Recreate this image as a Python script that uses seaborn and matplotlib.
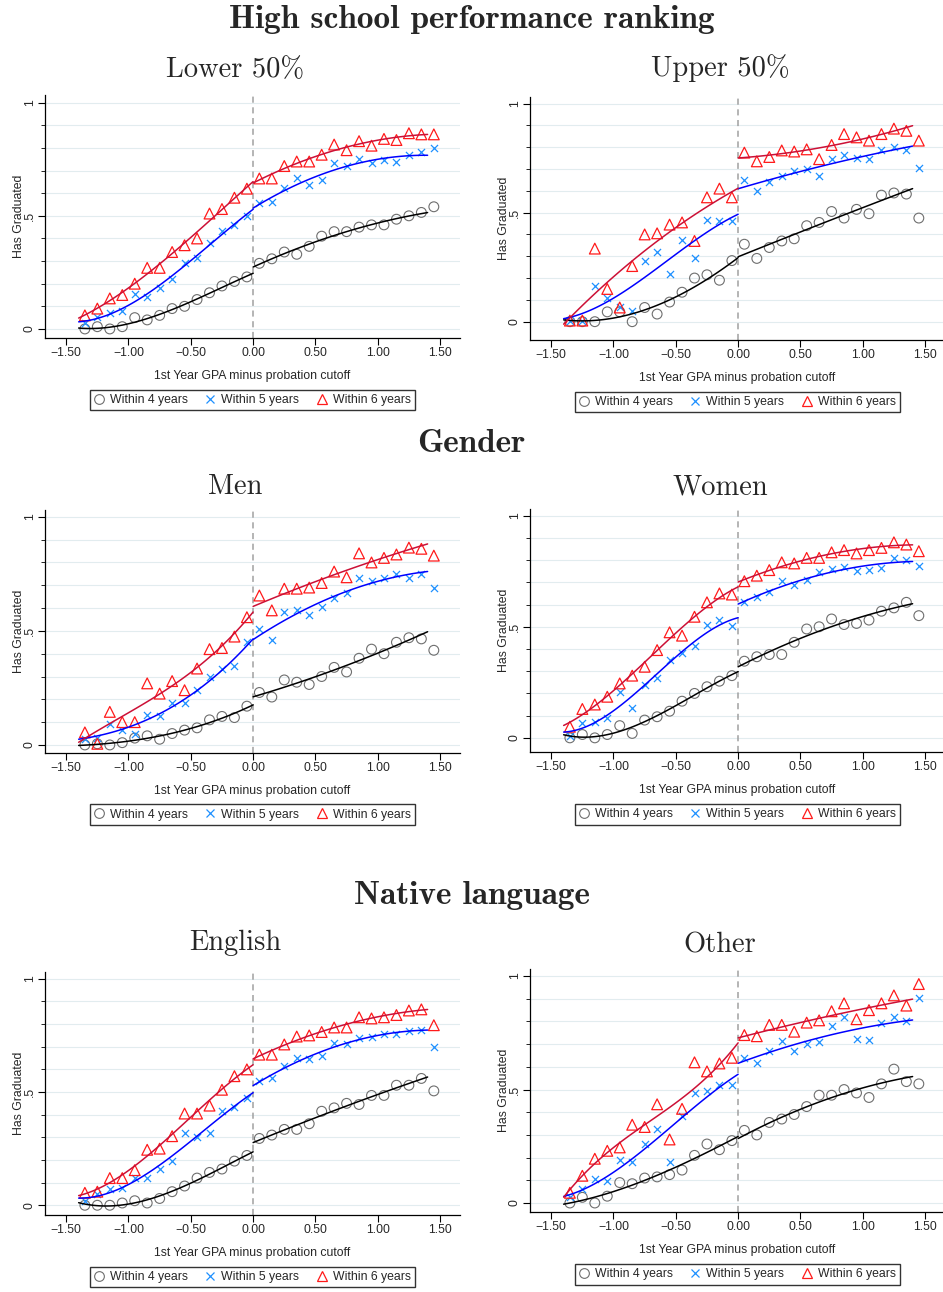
import numpy as np
import pandas as pd
import seaborn as sns
import matplotlib.pyplot as plt
from matplotlib.lines import Line2D
from matplotlib.ticker import MultipleLocator

# bin centres of 1st year GPA minus probation cutoff
bins = [-1.35, -1.25, -1.15, -1.05, -0.95, -0.85, -0.75, -0.65, -0.55, -0.45,
        -0.35, -0.25, -0.15, -0.05, 0.05, 0.15, 0.25, 0.35, 0.45, 0.55,
        0.65, 0.75, 0.85, 0.95, 1.05, 1.15, 1.25, 1.35, 1.45]

# High school ranking: lower 50%
lower_4yr = [0.00, 0.01, 0.00, 0.01, 0.05, 0.04, 0.06, 0.09, 0.10, 0.13, 0.16, 0.19, 0.21, 0.23,
             0.29, 0.31, 0.34, 0.33, 0.365, 0.41, 0.43, 0.43, 0.45, 0.46, 0.46, 0.485, 0.50, 0.515, 0.54]
lower_5yr = [0.025, 0.055, 0.07, 0.08, 0.155, 0.14, 0.18, 0.22, 0.29, 0.315, 0.38, 0.435, 0.46, 0.50,
             0.555, 0.56, 0.625, 0.665, 0.635, 0.66, 0.735, 0.72, 0.75, 0.735, 0.745, 0.74, 0.77, 0.78, 0.80]
lower_6yr = [0.06, 0.09, 0.135, 0.15, 0.20, 0.27, 0.27, 0.34, 0.37, 0.40, 0.51, 0.53, 0.58, 0.62,
             0.665, 0.665, 0.72, 0.74, 0.74, 0.77, 0.815, 0.79, 0.83, 0.81, 0.84, 0.835, 0.865, 0.86, 0.86]

# High school ranking: upper 50%
upper_4yr = [0.00, 0.00, 0.00, 0.045, 0.045, 0.00, 0.065, 0.035, 0.09, 0.135, 0.20, 0.215, 0.19, 0.28,
             0.355, 0.29, 0.34, 0.37, 0.38, 0.44, 0.455, 0.505, 0.475, 0.515, 0.495, 0.58, 0.59, 0.585, 0.475]
upper_5yr = [0.005, 0.005, 0.165, 0.11, 0.065, 0.05, 0.28, 0.32, 0.22, 0.375, 0.29, 0.465, 0.46, 0.46,
             0.65, 0.60, 0.64, 0.67, 0.69, 0.70, 0.67, 0.745, 0.765, 0.75, 0.745, 0.785, 0.80, 0.785, 0.705]
upper_6yr = [0.005, 0.005, 0.335, 0.15, 0.065, 0.255, 0.40, 0.405, 0.445, 0.455, 0.37, 0.57, 0.61, 0.57,
             0.775, 0.735, 0.755, 0.785, 0.78, 0.79, 0.745, 0.81, 0.86, 0.845, 0.83, 0.86, 0.885, 0.875, 0.83]

# Gender: men
men_4yr = [0.00, 0.005, 0.00, 0.01, 0.03, 0.04, 0.025, 0.05, 0.065, 0.075, 0.11, 0.125, 0.12, 0.17,
           0.23, 0.21, 0.285, 0.275, 0.265, 0.30, 0.34, 0.32, 0.38, 0.42, 0.40, 0.45, 0.47, 0.465, 0.415]
men_5yr = [0.025, 0.03, 0.09, 0.065, 0.05, 0.13, 0.125, 0.185, 0.185, 0.24, 0.30, 0.335, 0.345, 0.45,
           0.51, 0.46, 0.585, 0.59, 0.57, 0.605, 0.645, 0.665, 0.73, 0.72, 0.73, 0.75, 0.73, 0.75, 0.69]
men_6yr = [0.055, 0.005, 0.145, 0.10, 0.10, 0.27, 0.225, 0.28, 0.24, 0.335, 0.42, 0.425, 0.475, 0.56,
           0.655, 0.59, 0.685, 0.685, 0.69, 0.71, 0.76, 0.735, 0.84, 0.80, 0.82, 0.835, 0.865, 0.86, 0.83]

# Gender: women
women_4yr = [0.00, 0.015, 0.00, 0.015, 0.055, 0.02, 0.08, 0.095, 0.12, 0.165, 0.20, 0.23, 0.255, 0.28,
             0.345, 0.365, 0.375, 0.375, 0.43, 0.49, 0.50, 0.535, 0.51, 0.515, 0.53, 0.57, 0.585, 0.61, 0.55]
women_5yr = [0.01, 0.065, 0.07, 0.09, 0.205, 0.135, 0.24, 0.27, 0.35, 0.38, 0.415, 0.51, 0.53, 0.505,
             0.61, 0.635, 0.655, 0.705, 0.69, 0.71, 0.745, 0.76, 0.77, 0.75, 0.755, 0.765, 0.81, 0.80, 0.775]
women_6yr = [0.05, 0.13, 0.15, 0.185, 0.245, 0.28, 0.32, 0.395, 0.475, 0.46, 0.545, 0.61, 0.65, 0.645,
             0.705, 0.73, 0.755, 0.79, 0.785, 0.81, 0.81, 0.835, 0.845, 0.83, 0.845, 0.855, 0.88, 0.87, 0.84]

# Native language: English
english_4yr = [0.00, 0.00, 0.00, 0.01, 0.02, 0.01, 0.03, 0.06, 0.085, 0.12, 0.145, 0.16, 0.195, 0.22,
               0.295, 0.31, 0.335, 0.335, 0.36, 0.415, 0.43, 0.45, 0.445, 0.485, 0.485, 0.53, 0.53, 0.56, 0.505]
english_5yr = [0.02, 0.05, 0.07, 0.075, 0.12, 0.12, 0.16, 0.195, 0.32, 0.30, 0.32, 0.415, 0.435, 0.475,
               0.55, 0.56, 0.615, 0.65, 0.645, 0.66, 0.715, 0.71, 0.74, 0.745, 0.755, 0.755, 0.77, 0.775, 0.70]
english_6yr = [0.055, 0.06, 0.12, 0.12, 0.155, 0.245, 0.25, 0.305, 0.405, 0.405, 0.44, 0.51, 0.57, 0.60,
               0.665, 0.665, 0.71, 0.745, 0.75, 0.765, 0.785, 0.785, 0.83, 0.825, 0.83, 0.84, 0.86, 0.865, 0.795]

# Native language: other
other_4yr = [0.00, 0.025, 0.00, 0.03, 0.09, 0.085, 0.11, 0.115, 0.125, 0.145, 0.21, 0.26, 0.235, 0.275,
             0.32, 0.30, 0.355, 0.37, 0.39, 0.425, 0.475, 0.475, 0.50, 0.485, 0.465, 0.525, 0.59, 0.535, 0.525]
other_5yr = [0.025, 0.06, 0.105, 0.095, 0.19, 0.18, 0.26, 0.325, 0.18, 0.385, 0.485, 0.495, 0.52, 0.52,
             0.64, 0.615, 0.67, 0.715, 0.67, 0.70, 0.71, 0.78, 0.82, 0.725, 0.72, 0.795, 0.82, 0.80, 0.905]
other_6yr = [0.045, 0.12, 0.195, 0.23, 0.245, 0.345, 0.335, 0.435, 0.28, 0.415, 0.62, 0.58, 0.615, 0.64,
             0.74, 0.735, 0.785, 0.785, 0.755, 0.795, 0.805, 0.845, 0.88, 0.81, 0.85, 0.88, 0.915, 0.87, 0.965]

xtick_vals = [-1.5, -1.0, -0.5, 0.0, 0.5, 1.0, 1.5]
xtick_labels = ["\u22121.50", "\u22121.00", "\u22120.50", "0.00", "0.50", "1.00", "1.50"]
ytick_vals = [0, 0.5, 1]
ytick_labels = ["0", ".5", "1"]
series_labels = ["Within 4 years", "Within 5 years", "Within 6 years"]

sns.set_theme(style="white")
plt.rcParams['font.family'] = ['Liberation Sans', 'DejaVu Sans']

W, H = 943, 1292
fig = plt.figure(figsize=(W / 100, H / 100), dpi=100)

C_CIRC = '#6e6e6e'
C_X = '#1e90ff'
C_TRI = '#ff1a1a'
L_COLS = ['black', '#0000ff', '#cc1036']
SANS = 8.8


def add_axes(px):
    l, t, r, b = px
    return fig.add_axes([l / W, 1 - b / H, (r - l) / W, (b - t) / H])


def fit_line(x, y, lo, hi, deg):
    x = np.asarray(x)
    y = np.asarray(y)
    m = (x > lo) & (x < hi)
    coef = np.polyfit(x[m], y[m], deg)
    g = np.linspace(lo, hi, 80)
    return g, np.polyval(coef, g)


def draw_panel(px, ylim, y4, y5, y6):
    ax = add_axes(px)
    df = pd.DataFrame({'gpa': bins, 'w4': y4, 'w5': y5, 'w6': y6})
    ax.yaxis.set_minor_locator(MultipleLocator(0.1))
    ax.grid(True, axis='y', which='both', color='#e2ecef', lw=0.8)
    ax.set_axisbelow(True)
    ax.axvline(0, color='#a0a0a0', ls=(0, (4, 3)), lw=1.1, zorder=1)

    sns.scatterplot(data=df, x='gpa', y='w4', ax=ax, marker='o', s=50,
                    facecolor='none', edgecolor=C_CIRC, linewidth=0.8, zorder=3)
    sns.scatterplot(data=df, x='gpa', y='w5', ax=ax, marker='x', s=26,
                    color=C_X, linewidth=0.9, zorder=3)
    sns.scatterplot(data=df, x='gpa', y='w6', ax=ax, marker='^', s=60,
                    facecolor='none', edgecolor=C_TRI, linewidth=0.9, zorder=3)

    # local fits on each side of the cutoff
    for ys, col in zip([y4, y5, y6], L_COLS):
        for lo, hi, deg in [(-1.4, 0.0, 3), (0.0, 1.4, 2)]:
            gx, gy = fit_line(bins, ys, lo, hi, deg)
            sns.lineplot(x=gx, y=gy, ax=ax, color=col, lw=1.1, zorder=4)

    ax.set_xlim(-1.67, 1.66)
    ax.set_ylim(*ylim)
    ax.set_xticks(xtick_vals, xtick_labels)
    ax.set_yticks(ytick_vals, ytick_labels)
    for lab in ax.get_yticklabels():
        lab.set_rotation(90)
        lab.set_va('center')
    ax.tick_params(axis='x', which='major', length=5, width=0.8,
                   labelsize=SANS, color='black', pad=1.5, bottom=True)
    ax.tick_params(axis='y', which='major', length=5, width=0.8,
                   labelsize=SANS, color='black', pad=1.5, left=True)
    ax.tick_params(axis='y', which='minor', length=3, width=0.6, color='black', left=True)
    for s in ['top', 'right']:
        ax.spines[s].set_visible(False)
    for s in ['left', 'bottom']:
        ax.spines[s].set_color('black')
        ax.spines[s].set_linewidth(0.9)

    ax.set_xlabel('1st Year GPA minus probation cutoff', fontsize=SANS, labelpad=8)
    ax.set_ylabel('Has Graduated', fontsize=SANS, labelpad=-1)

    handles = [
        Line2D([], [], marker='o', ls='none', mfc='none', mec=C_CIRC, ms=7, mew=0.8),
        Line2D([], [], marker='x', ls='none', color=C_X, ms=5.5, mew=0.9),
        Line2D([], [], marker='^', ls='none', mfc='none', mec=C_TRI, ms=7.5, mew=0.9),
    ]
    leg = ax.legend(handles, series_labels, loc='center', bbox_to_anchor=(0.5, -0.255),
                    ncol=3, fontsize=SANS, frameon=True, fancybox=False,
                    handlelength=0.8, handletextpad=0.5, columnspacing=1.45,
                    borderpad=0.35, edgecolor='black')
    leg.get_frame().set_linewidth(1.0)
    return ax


panels = [
    ((45, 95, 460, 338), (-0.04, 1.034), lower_4yr, lower_5yr, lower_6yr),
    ((530, 97, 945, 340), (-0.084, 1.03), upper_4yr, upper_5yr, upper_6yr),
    ((45, 510, 460, 752.7), (-0.034, 1.03), men_4yr, men_5yr, men_6yr),
    ((530, 509, 945, 752.3), (-0.065, 1.03), women_4yr, women_5yr, women_6yr),
    ((45, 972, 460, 1215), (-0.043, 1.03), english_4yr, english_5yr, english_6yr),
    ((530, 969.3, 945, 1212.3), (-0.041, 1.03), other_4yr, other_5yr, other_6yr),
]
for p in panels:
    draw_panel(*p)

# section and panel titles
for txt, yp in [("High school performance ranking", 19), ("Gender", 444), ("Native language", 896)]:
    fig.text(0.5, 1 - yp / H, txt, family='cmb10', fontsize=24, ha='center', va='center')
for txt, xp, yp in [("Lower 50%", 235, 70), ("Upper 50%", 720, 68), ("Men", 235, 487),
                    ("Women", 720, 487), ("English", 235, 943), ("Other", 720, 945)]:
    fig.text(xp / W, 1 - yp / H, txt, family='cmr10', fontsize=20.5, ha='center', va='center')

fig.savefig('out.png', dpi=100)
